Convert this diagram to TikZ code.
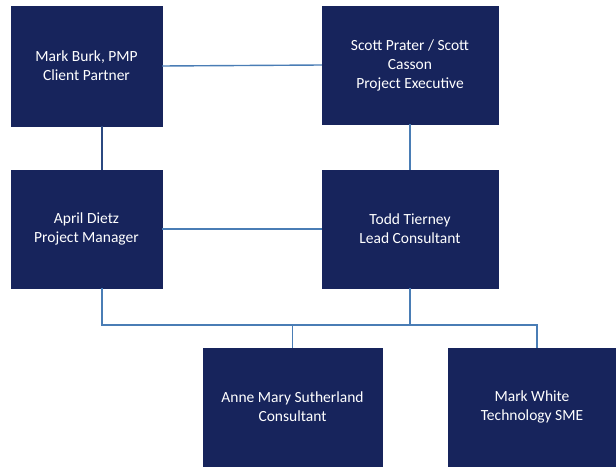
\documentclass[tikz,border=0pt]{standalone}
\usepackage{fontspec}
\setmainfont{Carlito}
\definecolor{boxnavy}{HTML}{17245C}
\definecolor{linkblue}{HTML}{4A7DB5}
\begin{document}
\begin{tikzpicture}[x=1pt,y=-1pt,
  person/.style={draw=boxnavy,fill=boxnavy,text=white,inner sep=0pt,align=center,
    font=\fontsize{15.5}{19}\selectfont},
  link/.style={draw=linkblue,line width=1.4pt}]
\useasboundingbox (0,0) rectangle (616,468);
\node[person,minimum width=151pt,minimum height=120pt] (burk) at (86.5,66) {Mark Burk, PMP\\Client Partner};
\node[person,minimum width=176pt,minimum height=118pt] (prater) at (410,65) {Scott Prater / Scott\\Casson\\Project Executive};
\node[person,minimum width=151pt,minimum height=118pt] (dietz) at (86.5,229) {April Dietz\\Project Manager};
\node[person,minimum width=176pt,minimum height=118pt] (tierney) at (410,229) {Todd Tierney\\Lead Consultant};
\node[person,minimum width=179pt,minimum height=118pt] (sutherland) at (292.5,407) {Anne Mary Sutherland\\Consultant};
\node[person,minimum width=168pt,minimum height=118pt] (white) at (532,407) {Mark White\\Technology SME};
\coordinate (busL) at (102,325);
\coordinate (busR) at (537,325);
\draw[link] (burk.east) -- (prater.west);
\draw[link,draw=boxnavy!60!linkblue] ([xshift=15.5pt]burk.south) -- ([xshift=15.5pt]dietz.north);
\draw[link] (prater.south) -- (tierney.north);
\draw[link] (dietz.east) -- (tierney.west);
\draw[link] ([xshift=15.5pt]dietz.south) -- (busL) -- (busR) -- (busR |- white.north);
\draw[link] (tierney.south) -- (tierney.south |- busL);
\draw[link] (sutherland.north |- busL) -- (sutherland.north);
\end{tikzpicture}
\end{document}
